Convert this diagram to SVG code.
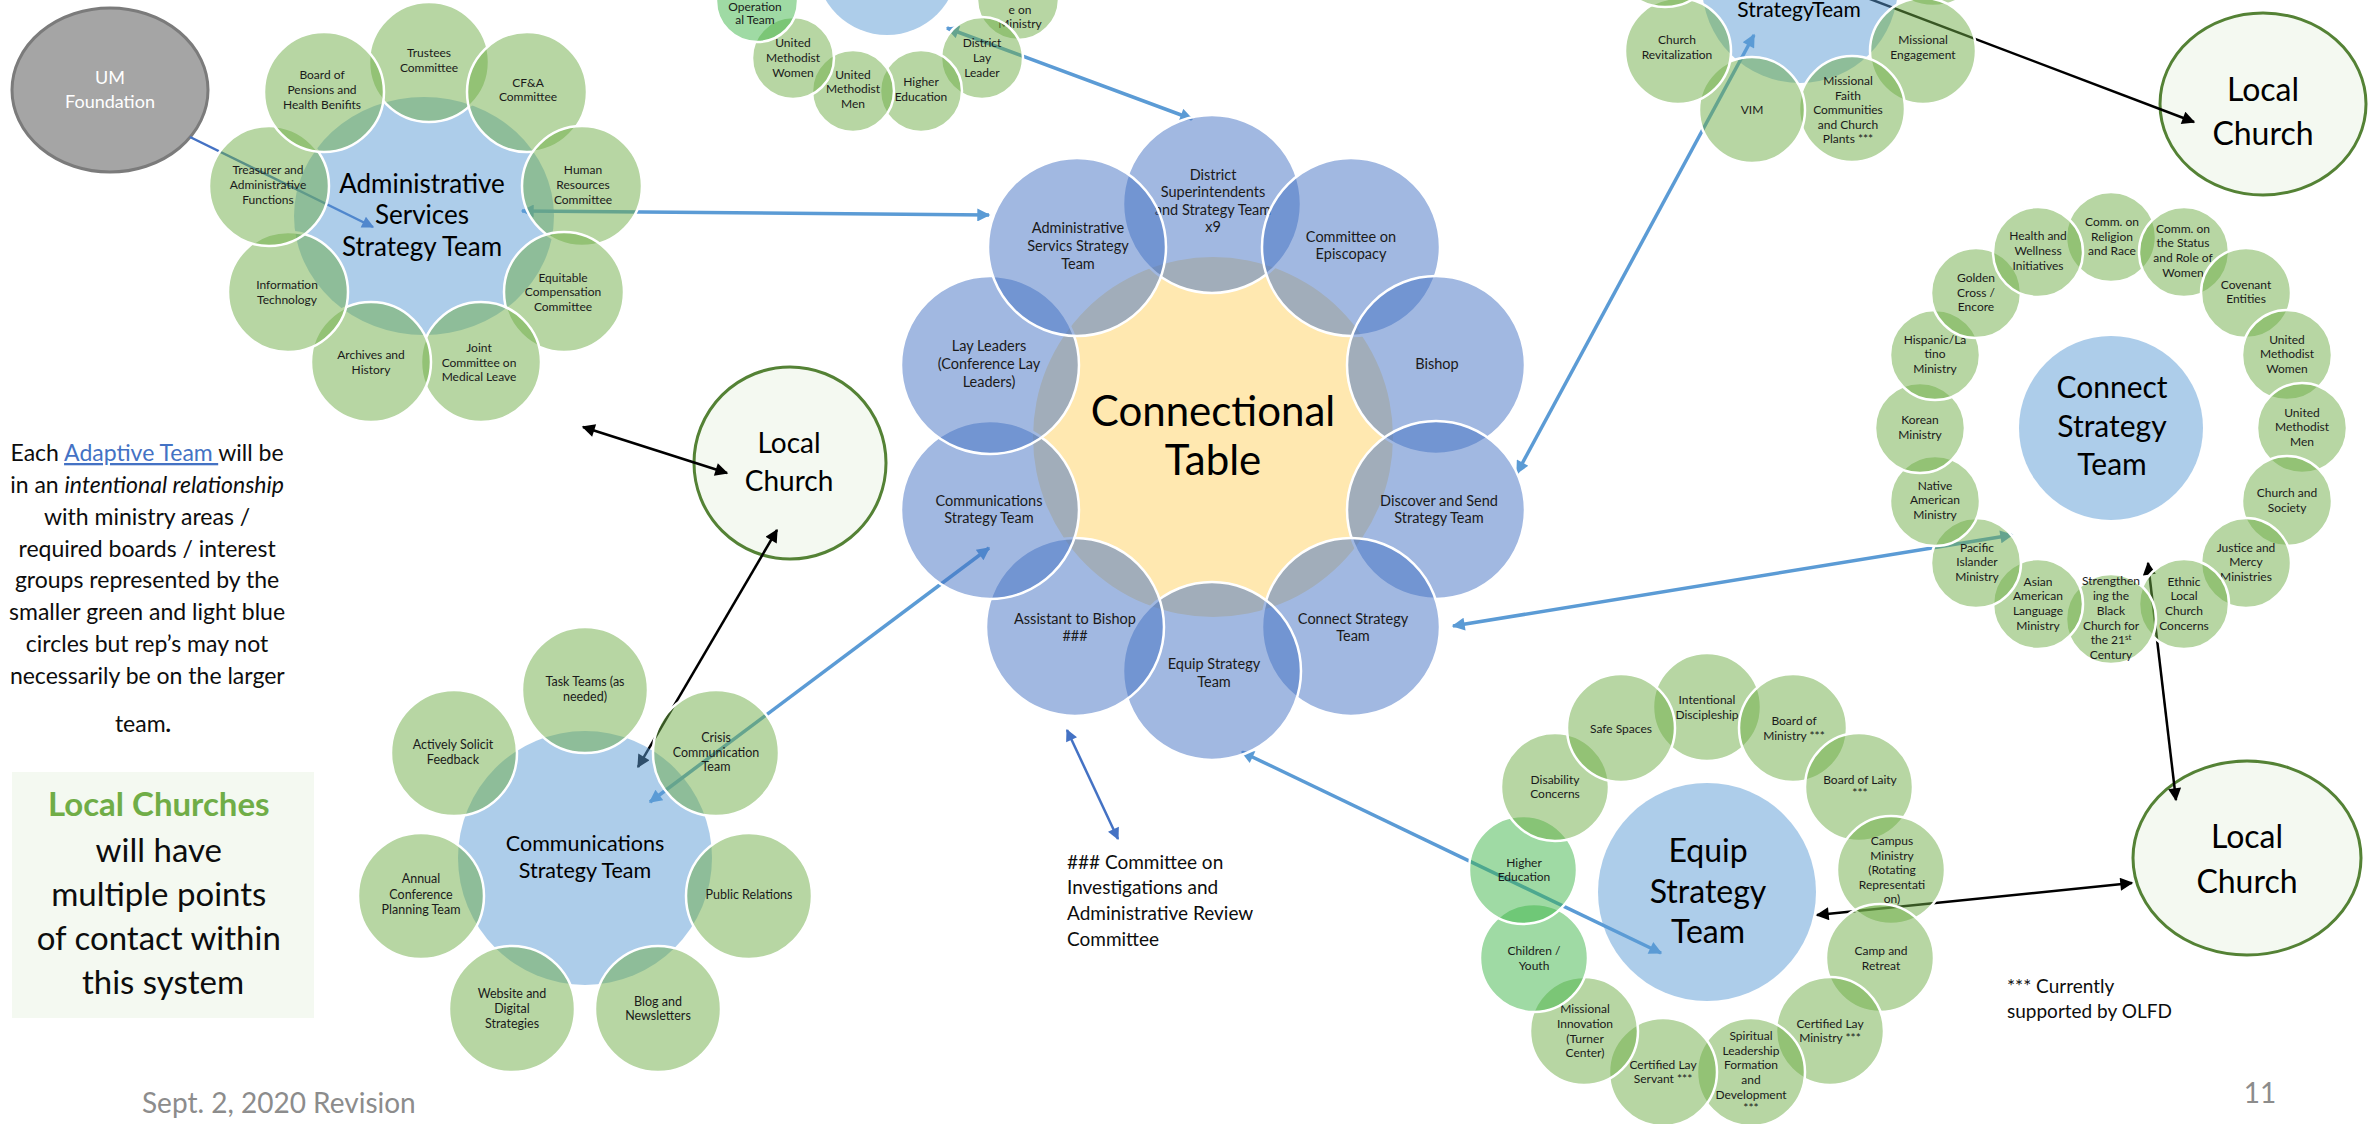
<svg xmlns="http://www.w3.org/2000/svg" width="2379" height="1124" viewBox="0 0 2379 1124">
<defs>
<style>
text{font-family:Lato,'Liberation Sans',sans-serif;text-anchor:middle;fill:#1a1a1a}
.s{font-size:12px}
.s5{font-size:12.5px}
.m{font-size:14.5px}
.g{fill:#70ad47;fill-opacity:.5;stroke:#fff;stroke-width:2.5}
.gb{fill:#3fb54a;fill-opacity:.5;stroke:#fff;stroke-width:2.5}
.b{fill:#4472c4;fill-opacity:.5;stroke:#fff;stroke-width:2.5}
.lb{fill:#5b9bd5;fill-opacity:.5}
.lc{fill:#f4f9f1;stroke:#548235;stroke-width:3}
.cl{fill:none;stroke:#5b9bd5;stroke-width:3.5}
.cd{fill:none;stroke:#4472c4;stroke-width:2.5}
.ck{fill:none;stroke:#000;stroke-width:2.5}
.big{font-size:32px;fill:#000}
.lt{font-size:23px;fill:#0d0d0d}
.bx{font-size:33px;fill:#0d0d0d}
.gr{font-size:28px;fill:#8c8c8c}
.nt{font-size:19px;fill:#0d0d0d;text-anchor:start}
</style>
<marker id="mb" viewBox="0 0 10 10" refX="9" refY="5" markerWidth="16" markerHeight="13" markerUnits="userSpaceOnUse" orient="auto-start-reverse"><path d="M0,0L10,5L0,10z" fill="#5b9bd5"/></marker>
<marker id="md" viewBox="0 0 10 10" refX="9" refY="5" markerWidth="15" markerHeight="12" markerUnits="userSpaceOnUse" orient="auto-start-reverse"><path d="M0,0L10,5L0,10z" fill="#4472c4"/></marker>
<marker id="mk" viewBox="0 0 10 10" refX="9" refY="5" markerWidth="16" markerHeight="13" markerUnits="userSpaceOnUse" orient="auto-start-reverse"><path d="M0,0L10,5L0,10z" fill="#000"/></marker>
</defs>
<rect width="2379" height="1124" fill="#fff"/>

<!-- left note -->
<g id="note-adaptive">
<text class="lt"><tspan x="150" y="461">Each <tspan fill="#4472c4" text-decoration="underline">Adaptive Team </tspan>will be</tspan>
<tspan x="150" y="493">in an <tspan font-style="italic">intentional relationship</tspan></tspan>
<tspan x="150" y="525">with ministry areas /</tspan>
<tspan x="150" y="557">required boards / interest</tspan>
<tspan x="150" y="588">groups represented by the</tspan>
<tspan x="150" y="620">smaller green and light blue</tspan>
<tspan x="150" y="652">circles but rep’s may not</tspan>
<tspan x="150" y="684">necessarily be on the larger</tspan>
<tspan x="143" y="732">team<tspan font-weight="bold">.</tspan></tspan></text>
</g>
<g id="note-local-churches">
<rect x="12" y="772" width="302" height="246" fill="#f4f9f1"/>
<text class="bx"><tspan x="163" y="816" fill="#70ad47" font-weight="bold">Local Churches</tspan>
<tspan x="163" y="862">will have</tspan>
<tspan x="163" y="906">multiple points</tspan>
<tspan x="163" y="950">of contact within</tspan>
<tspan x="163" y="994">this system</tspan></text>
</g>
<g id="note-committee"><text class="nt"><tspan x="1067" y="869">### Committee on</tspan><tspan x="1067" y="894">Investigations and</tspan><tspan x="1067" y="920">Administrative Review</tspan><tspan x="1067" y="946">Committee</tspan></text></g>
<g id="note-olfd"><text class="nt"><tspan x="2007" y="993">*** Currently</tspan><tspan x="2007" y="1018">supported by OLFD</tspan></text></g>
<text class="gr" x="142" y="1113" style="text-anchor:start">Sept. 2, 2020 Revision</text>
<text class="gr" x="2260" y="1103">11</text>

<!-- standalone nodes -->
<g id="um-foundation"><ellipse cx="110" cy="90" rx="98" ry="82" fill="#a5a5a5" stroke="#7b7b7b" stroke-width="3"/><text style="font-size:18px;fill:#fff"><tspan x="110" y="84">UM</tspan><tspan x="110" y="108">Foundation</tspan></text></g>
<g id="local-church-top"><ellipse class="lc" cx="2263" cy="104" rx="103" ry="91"/><text class="big"><tspan x="2263" y="101">Local</tspan><tspan x="2263" y="145">Church</tspan></text></g>
<g id="local-church-mid"><circle class="lc" cx="790" cy="463" r="96"/><text class="big" style="font-size:28px"><tspan x="789" y="453">Local</tspan><tspan x="789" y="491">Church</tspan></text></g>
<g id="local-church-bottom"><ellipse class="lc" cx="2247" cy="858" rx="114" ry="97"/><text class="big"><tspan x="2247" y="848">Local</tspan><tspan x="2247" y="893">Church</tspan></text></g>

<!-- connectors -->
<g id="connectors">
<line class="cd" x1="190" y1="137" x2="373" y2="227" marker-end="url(#md)"/>
<line class="cl" x1="522" y1="211" x2="989" y2="215" marker-start="url(#mb)" marker-end="url(#mb)"/>
<line class="cl" x1="947" y1="28" x2="1192" y2="119" marker-start="url(#mb)" marker-end="url(#mb)"/>
<line class="cl" x1="1517" y1="473" x2="1754" y2="35" marker-start="url(#mb)" marker-end="url(#mb)"/>
<line class="ck" x1="1862" y1="-4" x2="2194" y2="122" marker-end="url(#mk)"/>
<line class="cl" x1="1453" y1="626" x2="2012" y2="535" marker-start="url(#mb)" marker-end="url(#mb)"/>
<line class="ck" x1="2148" y1="563" x2="2176" y2="800" marker-start="url(#mk)" marker-end="url(#mk)"/>
<line class="ck" x1="1817" y1="915" x2="2132" y2="883" marker-start="url(#mk)" marker-end="url(#mk)"/>
<line class="cl" x1="1242" y1="752" x2="1661" y2="953" marker-start="url(#mb)" marker-end="url(#mb)"/>
<line class="cd" x1="1067" y1="730" x2="1118" y2="839" marker-start="url(#md)" marker-end="url(#md)"/>
<line class="cl" x1="989" y1="548" x2="650" y2="802" marker-start="url(#mb)" marker-end="url(#mb)"/>
<line class="ck" x1="777" y1="530" x2="638" y2="767" marker-start="url(#mk)" marker-end="url(#mk)"/>
<line class="ck" x1="583" y1="427" x2="727" y2="473" marker-start="url(#mk)" marker-end="url(#mk)"/>
</g>

<!-- Administrative Services cluster -->
<g id="admin-cluster">
<g id="admin-center"><ellipse class="lb" cx="424" cy="216" rx="130" ry="119"/><text style="font-size:26px;fill:#000"><tspan x="422" y="193">Administrative</tspan><tspan x="422" y="224">Services</tspan><tspan x="422" y="256">Strategy Team</tspan></text></g>
<g id="admin-trustees"><circle class="g" cx="429" cy="62" r="60"/><text class="s"><tspan x="429" y="57">Trustees</tspan><tspan x="429" y="72">Committee</tspan></text></g>
<g id="admin-cfa"><circle class="g" cx="527" cy="92" r="60"/><text class="s"><tspan x="528" y="87">CF&amp;A</tspan><tspan x="528" y="101">Committee</tspan></text></g>
<g id="admin-hr"><circle class="g" cx="582" cy="186" r="60"/><text class="s"><tspan x="583" y="174">Human</tspan><tspan x="583" y="189">Resources</tspan><tspan x="583" y="204">Committee</tspan></text></g>
<g id="admin-equitable"><circle class="g" cx="564" cy="292" r="60"/><text class="s"><tspan x="563" y="282">Equitable</tspan><tspan x="563" y="296">Compensation</tspan><tspan x="563" y="311">Committee</tspan></text></g>
<g id="admin-joint"><circle class="g" cx="481" cy="362" r="60"/><text class="s"><tspan x="479" y="352">Joint</tspan><tspan x="479" y="367">Committee on</tspan><tspan x="479" y="381">Medical Leave</tspan></text></g>
<g id="admin-archives"><circle class="g" cx="371" cy="362" r="60"/><text class="s"><tspan x="371" y="359">Archives and</tspan><tspan x="371" y="374">History</tspan></text></g>
<g id="admin-it"><circle class="g" cx="288" cy="292" r="60"/><text class="s"><tspan x="287" y="289">Information</tspan><tspan x="287" y="304">Technology</tspan></text></g>
<g id="admin-treasurer"><circle class="g" cx="269" cy="186" r="60"/><text class="s"><tspan x="268" y="174">Treasurer and</tspan><tspan x="268" y="189">Administrative</tspan><tspan x="268" y="204">Functions</tspan></text></g>
<g id="admin-pensions"><circle class="g" cx="324" cy="92" r="60"/><text class="s"><tspan x="322" y="79">Board of</tspan><tspan x="322" y="94">Pensions and</tspan><tspan x="322" y="109">Health Benifits</tspan></text></g>
</g>

<!-- Connectional Table -->
<g id="connectional-cluster">
<g id="ct-center"><circle cx="1213" cy="437" r="180" fill="#ffe8b0"/><text style="font-size:42px;fill:#000"><tspan x="1213" y="426">Connectional</tspan><tspan x="1213" y="475">Table</tspan></text></g>
<g id="ct-district"><circle class="b" cx="1212" cy="204" r="89"/><text class="m"><tspan x="1213" y="180">District</tspan><tspan x="1213" y="197">Superintendents</tspan><tspan x="1213" y="215">and Strategy Team</tspan><tspan x="1213" y="232">x9</tspan></text></g>
<g id="ct-episcopacy"><circle class="b" cx="1351" cy="247" r="89"/><text class="m"><tspan x="1351" y="242">Committee on</tspan><tspan x="1351" y="259">Episcopacy</tspan></text></g>
<g id="ct-bishop"><circle class="b" cx="1436" cy="365" r="89"/><text class="m"><tspan x="1437" y="369">Bishop</tspan></text></g>
<g id="ct-discover"><circle class="b" cx="1436" cy="510" r="89"/><text class="m"><tspan x="1439" y="506">Discover and Send</tspan><tspan x="1439" y="523">Strategy Team</tspan></text></g>
<g id="ct-connect"><circle class="b" cx="1351" cy="627" r="89"/><text class="m"><tspan x="1353" y="624">Connect Strategy</tspan><tspan x="1353" y="641">Team</tspan></text></g>
<g id="ct-equip"><circle class="b" cx="1212" cy="671" r="89"/><text class="m"><tspan x="1214" y="669">Equip Strategy</tspan><tspan x="1214" y="687">Team</tspan></text></g>
<g id="ct-assistant"><circle class="b" cx="1075" cy="627" r="89"/><text class="m"><tspan x="1075" y="624">Assistant to Bishop</tspan><tspan x="1075" y="641">###</tspan></text></g>
<g id="ct-communications"><circle class="b" cx="990" cy="510" r="89"/><text class="m"><tspan x="989" y="506">Communications</tspan><tspan x="989" y="523">Strategy Team</tspan></text></g>
<g id="ct-laylead"><circle class="b" cx="990" cy="365" r="89"/><text class="m"><tspan x="989" y="351">Lay Leaders</tspan><tspan x="989" y="369">(Conference Lay</tspan><tspan x="989" y="387">Leaders)</tspan></text></g>
<g id="ct-admin"><circle class="b" cx="1077" cy="247" r="89"/><text class="m"><tspan x="1078" y="233">Administrative</tspan><tspan x="1078" y="251">Servics Strategy</tspan><tspan x="1078" y="269">Team</tspan></text></g>
</g>

<!-- Top center cluster -->
<g id="top-center-cluster">
<g id="tc-center"><circle class="lb" cx="887" cy="-36" r="71"/></g>
<g id="tc-ministry"><circle class="g" cx="1018" cy="-1" r="41"/><text class="s"><tspan x="1020" y="14">e on</tspan><tspan x="1020" y="28">Ministry</tspan></text></g>
<g id="tc-district-lay"><circle class="g" cx="982" cy="58" r="41"/><text class="s"><tspan x="982" y="47">District</tspan><tspan x="982" y="62">Lay</tspan><tspan x="982" y="77">Leader</tspan></text></g>
<g id="tc-higher-ed"><circle class="g" cx="921" cy="91" r="41"/><text class="s"><tspan x="921" y="86">Higher</tspan><tspan x="921" y="101">Education</tspan></text></g>
<g id="tc-umm"><circle class="g" cx="853" cy="91" r="41"/><text class="s"><tspan x="853" y="79">United</tspan><tspan x="853" y="93">Methodist</tspan><tspan x="853" y="108">Men</tspan></text></g>
<g id="tc-umw"><circle class="g" cx="793" cy="58" r="41"/><text class="s"><tspan x="793" y="47">United</tspan><tspan x="793" y="62">Methodist</tspan><tspan x="793" y="77">Women</tspan></text></g>
<g id="tc-operational"><circle class="gb" cx="757" cy="1" r="41"/><text class="s"><tspan x="755" y="11">Operation</tspan><tspan x="755" y="24">al Team</tspan></text></g>
</g>

<!-- Top right cluster -->
<g id="top-right-cluster">
<g id="tr-center"><circle class="lb" cx="1800" cy="-15" r="98"/><text style="font-size:21px;fill:#000"><tspan x="1799" y="17">StrategyTeam</tspan></text></g>
<g id="tr-partial-right"><circle class="g" cx="1933" cy="-47" r="53"/></g>
<g id="tr-engagement"><circle class="g" cx="1923" cy="51" r="53"/><text class="s"><tspan x="1923" y="44">Missional</tspan><tspan x="1923" y="59">Engagement</tspan></text></g>
<g id="tr-faith"><circle class="g" cx="1852" cy="109" r="53"/><text class="s"><tspan x="1848" y="85">Missional</tspan><tspan x="1848" y="100">Faith</tspan><tspan x="1848" y="114">Communities</tspan><tspan x="1848" y="129">and Church</tspan><tspan x="1848" y="143">Plants ***</tspan></text></g>
<g id="tr-vim"><circle class="g" cx="1752" cy="110" r="53"/><text class="s"><tspan x="1752" y="114">VIM</tspan></text></g>
<g id="tr-revitalization"><circle class="g" cx="1678" cy="51" r="53"/><text class="s"><tspan x="1677" y="44">Church</tspan><tspan x="1677" y="59">Revitalization</tspan></text></g>
<g id="tr-partial-left"><circle class="g" cx="1665" cy="-46" r="53"/></g>
</g>

<!-- Connect Strategy Team cluster -->
<g id="connect-cluster">
<g id="cn-center"><circle class="lb" cx="2111" cy="428" r="92"/><text style="font-size:30px;fill:#000"><tspan x="2112" y="398">Connect</tspan><tspan x="2112" y="437">Strategy</tspan><tspan x="2112" y="475">Team</tspan></text></g>
<g id="cn-religion"><circle class="g" cx="2111" cy="237" r="45"/><text class="s"><tspan x="2112" y="226">Comm. on</tspan><tspan x="2112" y="241">Religion</tspan><tspan x="2112" y="255">and Race</tspan></text></g>
<g id="cn-status"><circle class="g" cx="2184" cy="252" r="45"/><text class="s"><tspan x="2183" y="233">Comm. on</tspan><tspan x="2183" y="247">the Status</tspan><tspan x="2183" y="262">and Role of</tspan><tspan x="2183" y="277">Women</tspan></text></g>
<g id="cn-covenant"><circle class="g" cx="2246" cy="293" r="45"/><text class="s"><tspan x="2246" y="289">Covenant</tspan><tspan x="2246" y="303">Entities</tspan></text></g>
<g id="cn-umw"><circle class="g" cx="2287" cy="355" r="45"/><text class="s"><tspan x="2287" y="344">United</tspan><tspan x="2287" y="358">Methodist</tspan><tspan x="2287" y="373">Women</tspan></text></g>
<g id="cn-umm"><circle class="g" cx="2302" cy="428" r="45"/><text class="s"><tspan x="2302" y="417">United</tspan><tspan x="2302" y="431">Methodist</tspan><tspan x="2302" y="446">Men</tspan></text></g>
<g id="cn-society"><circle class="g" cx="2287" cy="501" r="45"/><text class="s"><tspan x="2287" y="497">Church and</tspan><tspan x="2287" y="512">Society</tspan></text></g>
<g id="cn-justice"><circle class="g" cx="2246" cy="563" r="45"/><text class="s"><tspan x="2246" y="552">Justice and</tspan><tspan x="2246" y="566">Mercy</tspan><tspan x="2246" y="581">Ministries</tspan></text></g>
<g id="cn-ethnic"><circle class="g" cx="2184" cy="604" r="45"/><text class="s"><tspan x="2184" y="586">Ethnic</tspan><tspan x="2184" y="600">Local</tspan><tspan x="2184" y="615">Church</tspan><tspan x="2184" y="630">Concerns</tspan></text></g>
<g id="cn-black-church"><circle class="g" cx="2111" cy="619" r="45"/><text class="s"><tspan x="2111" y="585">Strengthen</tspan><tspan x="2111" y="600">ing the</tspan><tspan x="2111" y="615">Black</tspan><tspan x="2111" y="630">Church for</tspan><tspan x="2111" y="644">the 21<tspan font-size="8" dy="-4">st</tspan></tspan><tspan x="2111" y="659">Century</tspan></text></g>
<g id="cn-asian"><circle class="g" cx="2038" cy="604" r="45"/><text class="s"><tspan x="2038" y="586">Asian</tspan><tspan x="2038" y="600">American</tspan><tspan x="2038" y="615">Language</tspan><tspan x="2038" y="630">Ministry</tspan></text></g>
<g id="cn-pacific"><circle class="g" cx="1976" cy="563" r="45"/><text class="s"><tspan x="1977" y="552">Pacific</tspan><tspan x="1977" y="566">Islander</tspan><tspan x="1977" y="581">Ministry</tspan></text></g>
<g id="cn-native"><circle class="g" cx="1935" cy="501" r="45"/><text class="s"><tspan x="1935" y="490">Native</tspan><tspan x="1935" y="504">American</tspan><tspan x="1935" y="519">Ministry</tspan></text></g>
<g id="cn-korean"><circle class="g" cx="1920" cy="428" r="45"/><text class="s"><tspan x="1920" y="424">Korean</tspan><tspan x="1920" y="439">Ministry</tspan></text></g>
<g id="cn-hispanic"><circle class="g" cx="1935" cy="355" r="45"/><text class="s"><tspan x="1935" y="344">Hispanic/La</tspan><tspan x="1935" y="358">tino</tspan><tspan x="1935" y="373">Ministry</tspan></text></g>
<g id="cn-golden"><circle class="g" cx="1976" cy="293" r="45"/><text class="s"><tspan x="1976" y="282">Golden</tspan><tspan x="1976" y="297">Cross /</tspan><tspan x="1976" y="311">Encore</tspan></text></g>
<g id="cn-health"><circle class="g" cx="2038" cy="252" r="45"/><text class="s"><tspan x="2038" y="240">Health and</tspan><tspan x="2038" y="255">Wellness</tspan><tspan x="2038" y="270">Initiatives</tspan></text></g>
</g>

<!-- Equip Strategy Team cluster -->
<g id="equip-cluster">
<g id="eq-center"><circle class="lb" cx="1707" cy="892" r="109"/><text style="font-size:32px;fill:#000"><tspan x="1708" y="862">Equip</tspan><tspan x="1708" y="903">Strategy</tspan><tspan x="1708" y="943">Team</tspan></text></g>
<g id="eq-discipleship"><circle class="g" cx="1707" cy="707" r="54"/><text class="s"><tspan x="1707" y="704">Intentional</tspan><tspan x="1707" y="719">Discipleship</tspan></text></g>
<g id="eq-bom"><circle class="g" cx="1793" cy="728" r="54"/><text class="s"><tspan x="1794" y="725">Board of</tspan><tspan x="1794" y="740">Ministry ***</tspan></text></g>
<g id="eq-laity"><circle class="g" cx="1859" cy="787" r="54"/><text class="s"><tspan x="1860" y="784">Board of Laity</tspan><tspan x="1860" y="797">***</tspan></text></g>
<g id="eq-campus"><circle class="g" cx="1891" cy="870" r="54"/><text class="s"><tspan x="1892" y="845">Campus</tspan><tspan x="1892" y="860">Ministry</tspan><tspan x="1892" y="874">(Rotating</tspan><tspan x="1892" y="889">Representati</tspan><tspan x="1892" y="903">on)</tspan></text></g>
<g id="eq-camp"><circle class="g" cx="1880" cy="958" r="54"/><text class="s"><tspan x="1881" y="955">Camp and</tspan><tspan x="1881" y="970">Retreat</tspan></text></g>
<g id="eq-clm"><circle class="g" cx="1830" cy="1031" r="54"/><text class="s"><tspan x="1830" y="1028">Certified Lay</tspan><tspan x="1830" y="1042">Ministry ***</tspan></text></g>
<g id="eq-spiritual"><circle class="g" cx="1751" cy="1072" r="54"/><text class="s"><tspan x="1751" y="1040">Spiritual</tspan><tspan x="1751" y="1055">Leadership</tspan><tspan x="1751" y="1069">Formation</tspan><tspan x="1751" y="1084">and</tspan><tspan x="1751" y="1099">Development</tspan><tspan x="1751" y="1112">***</tspan></text></g>
<g id="eq-cls"><circle class="g" cx="1663" cy="1072" r="54"/><text class="s"><tspan x="1663" y="1069">Certified Lay</tspan><tspan x="1663" y="1083">Servant ***</tspan></text></g>
<g id="eq-innovation"><circle class="g" cx="1584" cy="1031" r="54"/><text class="s"><tspan x="1585" y="1013">Missional</tspan><tspan x="1585" y="1028">Innovation</tspan><tspan x="1585" y="1043">(Turner</tspan><tspan x="1585" y="1057">Center)</tspan></text></g>
<g id="eq-children"><circle class="gb" cx="1534" cy="958" r="54"/><text class="s"><tspan x="1534" y="955">Children /</tspan><tspan x="1534" y="970">Youth</tspan></text></g>
<g id="eq-higher-ed"><circle class="gb" cx="1523" cy="870" r="54"/><text class="s"><tspan x="1524" y="867">Higher</tspan><tspan x="1524" y="881">Education</tspan></text></g>
<g id="eq-disability"><circle class="g" cx="1555" cy="787" r="54"/><text class="s"><tspan x="1555" y="784">Disability</tspan><tspan x="1555" y="798">Concerns</tspan></text></g>
<g id="eq-safe"><circle class="g" cx="1621" cy="728" r="54"/><text class="s"><tspan x="1621" y="733">Safe Spaces</tspan></text></g>
</g>

<!-- Communications Strategy Team cluster -->
<g id="comm-cluster">
<g id="cm-center"><circle class="lb" cx="585" cy="858" r="127"/><text style="font-size:21.5px;fill:#000"><tspan x="585" y="851">Communications</tspan><tspan x="585" y="878">Strategy Team</tspan></text></g>
<g id="cm-task"><circle class="g" cx="585" cy="690" r="63"/><text class="s5"><tspan x="585" y="686">Task Teams (as</tspan><tspan x="585" y="701">needed)</tspan></text></g>
<g id="cm-crisis"><circle class="g" cx="716" cy="753" r="63"/><text class="s5"><tspan x="716" y="742">Crisis</tspan><tspan x="716" y="757">Communication</tspan><tspan x="716" y="771">Team</tspan></text></g>
<g id="cm-pr"><circle class="g" cx="749" cy="896" r="63"/><text class="s5"><tspan x="749" y="899">Public Relations</tspan></text></g>
<g id="cm-blog"><circle class="g" cx="658" cy="1009" r="63"/><text class="s5"><tspan x="658" y="1006">Blog and</tspan><tspan x="658" y="1020">Newsletters</tspan></text></g>
<g id="cm-web"><circle class="g" cx="512" cy="1009" r="63"/><text class="s5"><tspan x="512" y="998">Website and</tspan><tspan x="512" y="1013">Digital</tspan><tspan x="512" y="1028">Strategies</tspan></text></g>
<g id="cm-annual"><circle class="g" cx="421" cy="896" r="63"/><text class="s5"><tspan x="421" y="883">Annual</tspan><tspan x="421" y="899">Conference</tspan><tspan x="421" y="914">Planning Team</tspan></text></g>
<g id="cm-feedback"><circle class="g" cx="454" cy="753" r="63"/><text class="s5"><tspan x="453" y="749">Actively Solicit</tspan><tspan x="453" y="764">Feedback</tspan></text></g>
</g>
</svg>
